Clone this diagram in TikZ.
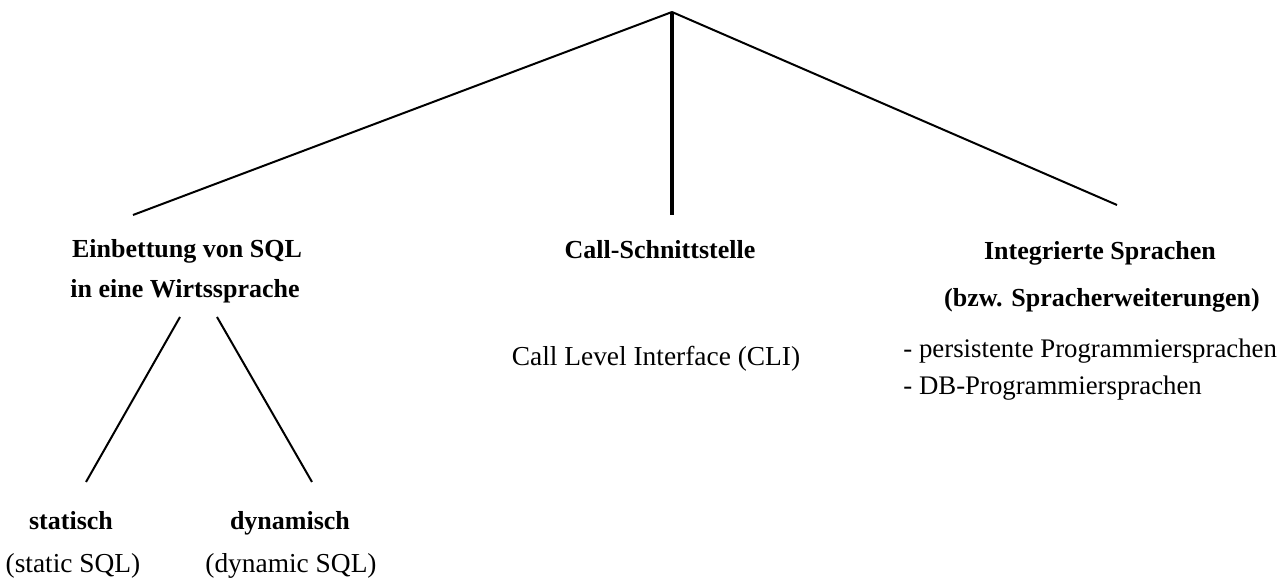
\documentclass[tikz,border=0pt]{standalone}
\usepackage{fontspec}
\setmainfont{Liberation Serif}

\begin{document}
\begin{tikzpicture}[x=0.5pt,y=-0.5pt,
    branch/.style={line width=1pt},
    trunk/.style={line width=1.9pt},
    heading/.style={anchor=base,inner sep=0,font=\fontsize{13}{15}\selectfont\bfseries},
    plain/.style={anchor=base,inner sep=0,font=\fontsize{13.7}{16}\selectfont},
    item/.style={anchor=base west,inner sep=0,font=\fontsize{13.4}{16}\selectfont}]
    \useasboundingbox (0,0) rectangle (1286,581);
    % branch points
    \coordinate (root) at (672,12);
    \coordinate (embtop) at (133,215);
    \coordinate (clitop) at (672,215);
    \coordinate (inttop) at (1117,205);
    \coordinate (embleft) at (180,317);
    \coordinate (embright) at (217,317);
    \coordinate (statend) at (86,482);
    \coordinate (dynend) at (312,482);
    % headings
    \node[heading] (emb1) at (187,258) {Einbettung von SQL};
    \node[heading] (emb2) at (185,298) {in eine Wirtssprache};
    \node[heading] (cli) at (660,259) {Call-Schnittstelle};
    \node[plain] (clitext) at (656,366) {Call Level Interface (CLI)};
    \node[heading] (int1) at (1100,260) {Integrierte Sprachen};
    \node[heading] (int2) at (1102,307) {(bzw. Spracherweiterungen)};
    \node[item] (persist) at (903,358) {- persistente Programmiersprachen};
    \node[item] (dbprog) at (903,395) {- DB-Programmiersprachen};
    \node[heading] (stat) at (71,530) {statisch};
    \node[heading] (dyn) at (290,530) {dynamisch};
    \node[plain] (stattext) at (73,573) {(static SQL)};
    \node[plain] (dyntext) at (291,573) {(dynamic SQL)};
    % connectors
    \draw[branch] (root) -- (embtop);
    \draw[trunk] (root) -- (clitop);
    \draw[branch] (root) -- (inttop);
    \draw[branch] (embleft) -- (statend);
    \draw[branch] (embright) -- (dynend);
\end{tikzpicture}
\end{document}
